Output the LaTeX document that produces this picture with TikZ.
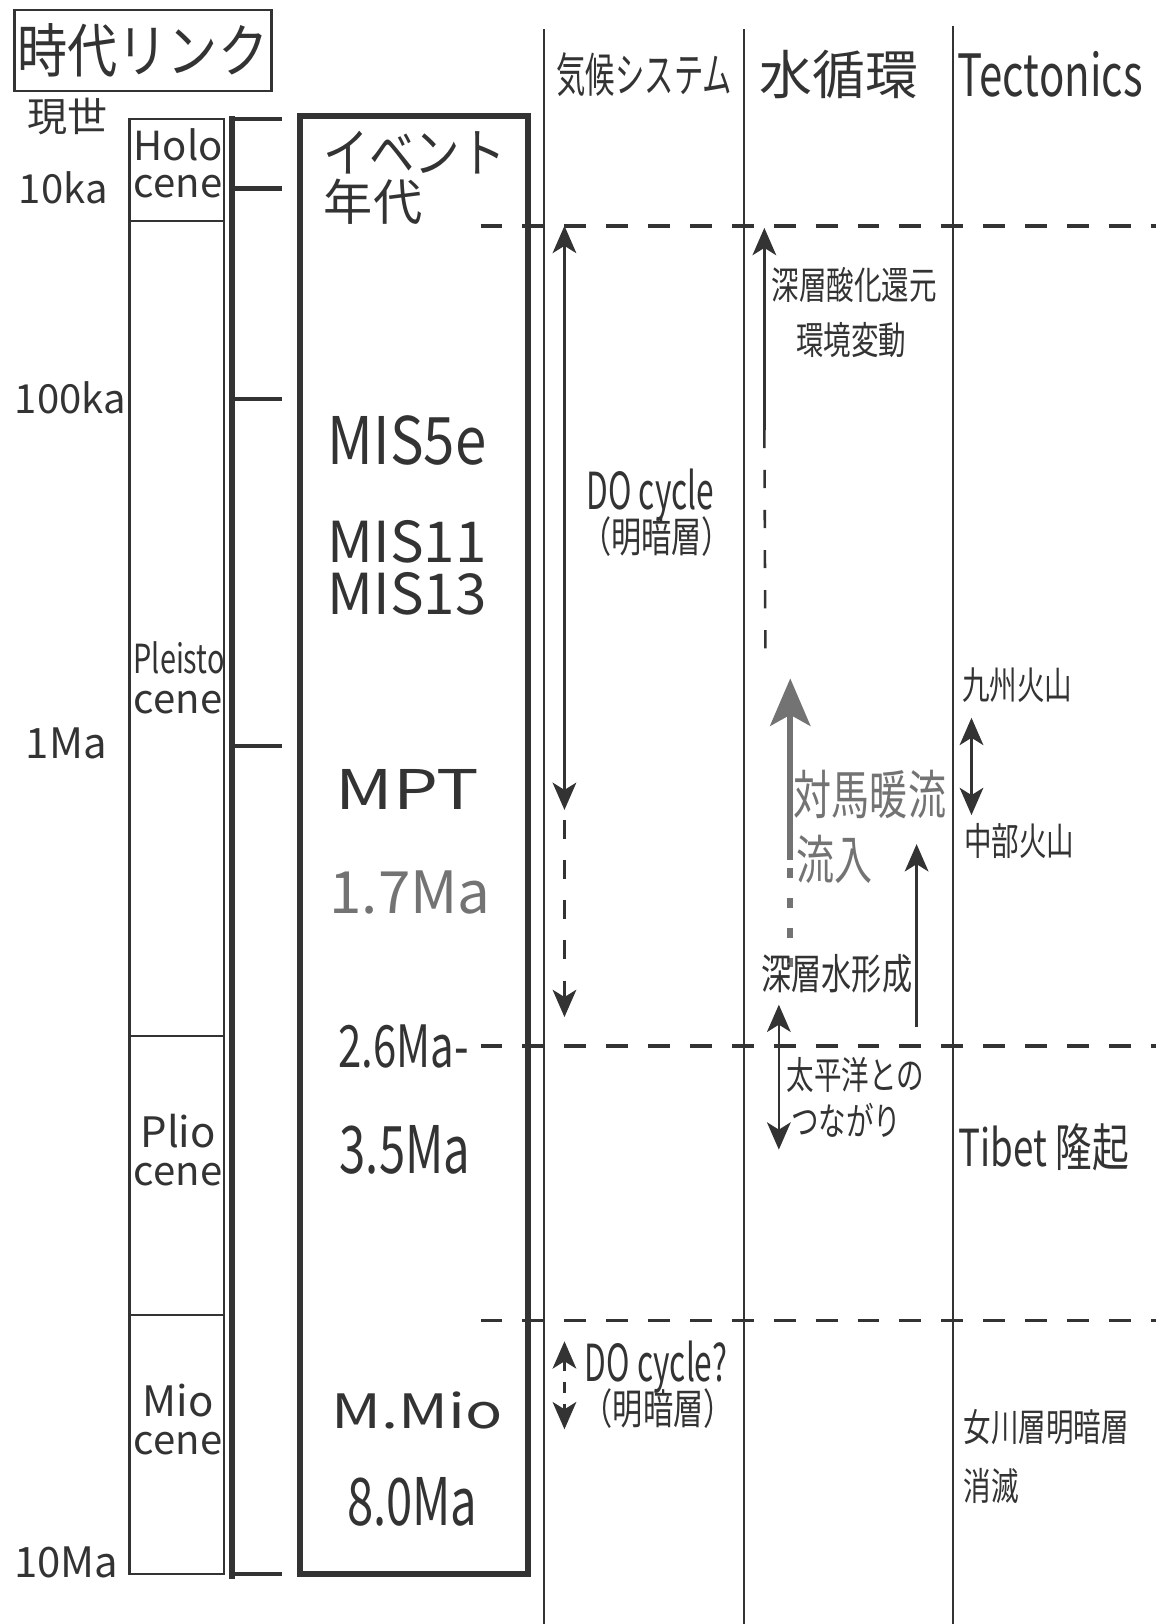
\documentclass[tikz,border=0pt]{standalone}
\usepackage{fontspec}
\setmainfont{Noto Sans CJK JP}
\newfontfamily\narrowfont[FakeStretch=0.72]{Noto Sans CJK JP}
\newfontfamily\tightfont[FakeStretch=0.62]{Noto Sans CJK JP}
\newfontfamily\semifont[FakeStretch=0.86]{Noto Sans CJK JP}
\newfontfamily\widefont[FakeStretch=1.3]{Noto Sans CJK JP}
\usepackage{xcolor}
\usetikzlibrary{arrows.meta}
\definecolor{ink}{gray}{0.2}
\definecolor{faded}{gray}{0.45}
\newcommand\fsz[1]{\fontsize{#1}{#1}\selectfont}
\tikzset{
  lbl/.style={inner sep=0pt, text=ink},
  rule/.style={line width=0.6pt, draw=ink},
  era/.style={line width=1pt, draw=ink, dash pattern=on 6pt off 5.5pt},
  arrline/.style={line width=0.7pt, draw=ink},
  gapline/.style={line width=0.7pt, draw=ink, dash pattern=on 5pt off 6pt},
  grayarrow/.style={line width=1.7pt, draw=faded, -{Stealth[length=13pt,width=11pt,inset=3pt]}},
  graydots/.style={line width=1.7pt, draw=faded, dash pattern=on 2.7pt off 5.5pt}
}
\begin{document}
\begin{tikzpicture}[x=0.01cm, y=-0.01cm, >={Stealth[length=7.5pt,width=6.5pt,inset=2pt]}]
    \useasboundingbox (0,0) rectangle (1116,1568);
    % title and ages
    \node[lbl, draw=ink, line width=0.6pt, minimum width=2.48cm, minimum height=0.78cm] (title) at (138,49) {\semifont\fsz{16}時代リンク};
    \node[lbl, font=\fsz{11}] (now) at (65,112) {現世};
    \node[lbl, font=\fsz{11}] (age10ka) at (61,181) {10ka};
    \node[lbl, font=\fsz{11}] (age100ka) at (68,384) {100ka};
    \node[lbl, font=\fsz{11.5}] (age1Ma) at (64,718) {1Ma};
    \node[lbl, font=\fsz{11.5}] (age10Ma) at (64,1509) {10Ma};
    % epochs
    \draw[rule] (125,115) rectangle (216,1520);
    \foreach \y in {213,1000,1270} {
        \draw[rule] (125,\y) -- (216,\y);
    }
    \node[lbl, font=\fsz{11}] (holo) at (172,140) {Holo};
    \node[lbl, font=\fsz{11}] (holocene) at (172,180) {cene};
    \node[lbl, font=\narrowfont\fsz{11}] (pleisto) at (173,635) {Pleisto};
    \node[lbl, font=\fsz{11}] (pleistocene) at (172,678) {cene};
    \node[lbl, font=\fsz{11.5}] (plio) at (172,1092) {Plio};
    \node[lbl, font=\fsz{11}] (pliocene) at (172,1134) {cene};
    \node[lbl, font=\fsz{11.5}] (mio) at (172,1352) {Mio};
    \node[lbl, font=\fsz{11}] (miocene) at (172,1394) {cene};
    % scale bar and ticks
    \draw[line width=1.4pt, ink] (224,112) -- (224,1525);
    \foreach \y in {115,182,385,720,1520} {
        \draw[line width=1.2pt, ink] (224,\y) -- (272,\y);
    }
    % event box
    \draw[line width=1.6pt, ink] (290,112) rectangle (510,1520);
    \node[lbl, anchor=west, font=\semifont\fsz{14.5}] (evt) at (312,147) {イベント};
    \node[lbl, anchor=west, font=\fsz{13.5}] (evtage) at (312,195) {年代};
    \node[lbl, font=\semifont\fsz{18}] (mis5e) at (393,425) {MIS5e};
    \node[lbl, font=\fsz{15.5}] (mis11) at (393,523) {MIS11};
    \node[lbl, font=\fsz{15.5}] (mis13) at (393,573) {MIS13};
    \node[lbl, font=\widefont\fsz{15}] (mpt) at (393,762) {MPT};
    \node[lbl, text=faded, font=\fsz{16}] (ma17) at (396,862) {1.7Ma};
    \node[lbl, font=\narrowfont\fsz{16}] (ma26) at (390,1010) {2.6Ma-};
    \node[lbl, font=\narrowfont\fsz{18}] (ma35) at (391,1110) {3.5Ma};
    \node[lbl, font=\widefont\fsz{13}] (mmio) at (403,1362) {M.Mio};
    \node[lbl, font=\narrowfont\fsz{18}] (ma80) at (398,1450) {8.0Ma};
    % columns
    \foreach \x/\t in {525/28, 718/28, 920/25} {
        \draw[rule] (\x,\t) -- (\x,1568);
    }
    \foreach \y in {218,1010,1275} {
        \draw[era] (464,\y) -- (1116,\y);
    }
    \node[lbl, font=\tightfont\fsz{13}] (hclim) at (622,72) {気候システム};
    \node[lbl, font=\fsz{14.5}] (hwater) at (810,72) {水循環};
    \node[lbl, font=\narrowfont\fsz{16}] (htect) at (1014,72) {Tectonics};
    % climate system
    \coordinate (doA) at (545,218);
    \coordinate (doB) at (545,782);
    \coordinate (doC) at (545,792);
    \coordinate (doD) at (545,982);
    \draw[arrline, <->] (doA) -- (doB);
    \draw[gapline, ->] (doC) -- (doD);
    \node[lbl, font=\tightfont\fsz{14}] (docyc) at (628,478) {DO cycle};
    \node[lbl, font=\narrowfont\fsz{11.5}] (dolayer) at (634,518) {（明暗層）};
    \coordinate (mioA) at (545,1295);
    \coordinate (mioB) at (545,1380);
    \draw[arrline, dash pattern=on 3pt off 3pt, <->] (mioA) -- (mioB);
    \node[lbl, anchor=west, font=\tightfont\fsz{14}] (docyc2) at (564,1320) {DO cycle?};
    \node[lbl, anchor=west, font=\narrowfont\fsz{11.5}] (dolayer2) at (562,1360) {（明暗層）};
    % water cycle
    \coordinate (rdA) at (738,415);
    \coordinate (rdB) at (738,220);
    \coordinate (rdC) at (739,632);
    \draw[arrline, ->] (rdA) -- (rdB);
    \draw[gapline] (rdA) -- (rdC);
    \node[lbl, font=\narrowfont\fsz{10.5}] (redox) at (825,275) {深層酸化還元};
    \node[lbl, font=\narrowfont\fsz{10.5}] (redoxenv) at (822,328) {環境変動};
    \coordinate (tsA) at (763,830);
    \coordinate (tsB) at (763,655);
    \coordinate (tsC) at (763,838);
    \coordinate (tsD) at (763,935);
    \draw[grayarrow] (tsA) -- (tsB);
    \draw[graydots] (tsC) -- (tsD);
    \node[lbl, text=faded, font=\narrowfont\fsz{14.5}] (tsushima) at (840,767) {対馬暖流};
    \node[lbl, text=faded, font=\narrowfont\fsz{14.5}] (inflow) at (806,830) {流入};
    \coordinate (dwA) at (885,992);
    \coordinate (dwB) at (885,815);
    \draw[arrline, ->] (dwA) -- (dwB);
    \node[lbl, font=\narrowfont\fsz{11.5}] (deepw) at (808,940) {深層水形成};
    \coordinate (pcA) at (752,970);
    \coordinate (pcB) at (752,1110);
    \draw[arrline, <->] (pcA) -- (pcB);
    \node[lbl, font=\narrowfont\fsz{10.5}] (pacific) at (826,1038) {太平洋との};
    \node[lbl, font=\narrowfont\fsz{10.5}] (pacific2) at (817,1082) {つながり};
    % tectonics
    \coordinate (vcA) at (938,693);
    \coordinate (vcB) at (938,787);
    \draw[arrline, <->] (vcA) -- (vcB);
    \node[lbl, font=\narrowfont\fsz{10.5}] (kyushu) at (982,662) {九州火山};
    \node[lbl, font=\narrowfont\fsz{10.5}] (chubu) at (984,812) {中部火山};
    \node[lbl, font=\narrowfont\fsz{14}] (tibet) at (1008,1108) {Tibet 隆起};
    \node[lbl, font=\narrowfont\fsz{10.5}] (onagawa) at (1010,1378) {女川層明暗層};
    \node[lbl, anchor=west, font=\narrowfont\fsz{10.5}] (vanish) at (930,1435) {消滅};
\end{tikzpicture}
\end{document}
